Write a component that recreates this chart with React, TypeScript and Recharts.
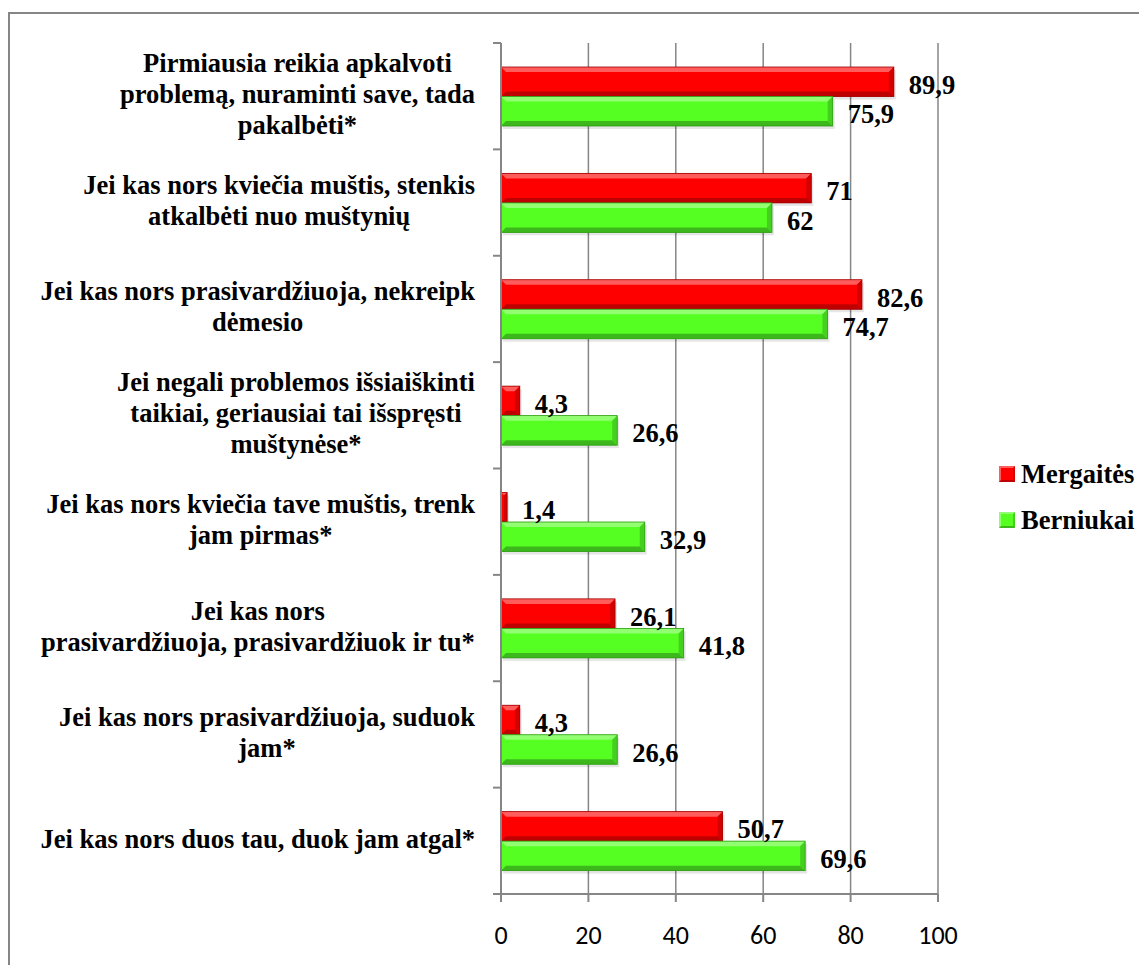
import { Bar, BarChart, CartesianGrid, LabelList, XAxis, YAxis } from 'recharts';

const categories = [
  'Pirmiausia reikia apkalvoti\nproblemą, nuraminti save, tada\npakalbėti*',
  'Jei kas nors kviečia muštis, stenkis\natkalbėti nuo muštynių',
  'Jei kas nors prasivardžiuoja, nekreipk\ndėmesio',
  'Jei negali problemos išsiaiškinti\ntaikiai, geriausiai tai išspręsti\nmuštynėse*',
  'Jei kas nors kviečia tave muštis, trenk\njam pirmas*',
  'Jei kas nors\nprasivardžiuoja, prasivardžiuok ir tu*',
  'Jei kas nors prasivardžiuoja, suduok\njam*',
  'Jei kas nors duos tau, duok jam atgal*',
];

const mergaites = [89.9, 71, 82.6, 4.3, 1.4, 26.1, 4.3, 50.7];
const berniukai = [75.9, 62, 74.7, 26.6, 32.9, 41.8, 26.6, 69.6];

const xTicks = [0, 20, 40, 60, 80, 100];

const data = categories.map((name, i) => ({
  name,
  mergaites: mergaites[i],
  berniukai: berniukai[i],
}));

const W = 1139;
const H = 965;
const MARGIN = { top: 35, right: 209, bottom: 19, left: 0 };
const X_AXIS_H = 60;
const PLOT_H = H - MARGIN.top - MARGIN.bottom - X_AXIS_H;
const BAND = PLOT_H / categories.length;

const GRID = '#868686';
const SERIF = 'Liberation Serif';
const FONT_SIZE = 26.5;

const RED = { base: '#ff0000', top: '#ff5c5c', bottom: '#bf0000', side: '#d40000', edge: '#a00000' };
const GREEN = { base: '#55ff22', top: '#92ff72', bottom: '#3cb81c', side: '#45d01f', edge: '#2e9a14' };

// rough Times/Liberation Serif bold advance widths (em), for centring wrapped label lines
const WIDE = 'mwMW';
const charW = (c: string) => {
  if (c === ' ' || c === ',' || c === '.') return 0.25;
  if ('iljtfI'.includes(c) || c === 'į') return 0.3;
  if ('r'.includes(c)) return 0.444;
  if ('s'.includes(c) || c === 'š') return 0.389;
  if ('e'.includes(c) || c === 'ė' || c === 'ę') return 0.444;
  if (c === 'm') return 0.833;
  if (WIDE.includes(c)) return 0.95;
  if ('JP'.includes(c)) return 0.55;
  if (c === 'c' || c === 'č') return 0.444;
  if (c === 'a' || c === 'ą' || c === 'o' || c === 'g' || c === 'v' || c === '*' || c === 'z' || c === 'ž') return 0.5;
  return 0.556;
};
const measure = (text: string) => {
  try {
    const el = document.createElement('canvas').getContext('2d');
    if (el) {
      el.font = `bold ${FONT_SIZE}px "Liberation Serif"`;
      return el.measureText(text).width;
    }
  } catch (e) {
    // fall through
  }
  return [...text].reduce((s, c) => s + charW(c), 0) * FONT_SIZE;
};

const fmt = (v: number) => String(v).replace('.', ',');

const BevelBar = (props: any) => {
  const { x, y, width, height, tone } = props;
  if (width <= 0) return null;
  const b = Math.min(5, width / 2);
  const r = x + width;
  const btm = y + height;
  return (
    <g>
      <rect x={x + 2} y={y + 3} width={width} height={height} fill="#000" opacity={0.1} />
      <rect x={x} y={y} width={width} height={height} fill={tone.base} />
      <polygon points={`${x},${y} ${r},${y} ${r - b},${y + b} ${x + b},${y + b}`} fill={tone.top} />
      <polygon points={`${x},${btm} ${r},${btm} ${r - b},${btm - b} ${x + b},${btm - b}`} fill={tone.bottom} />
      <polygon points={`${r},${y} ${r - b},${y + b} ${r - b},${btm - b} ${r},${btm}`} fill={tone.side} />
      <rect x={x} y={y} width={width} height={height} fill="none" stroke={tone.edge} strokeWidth={0.8} />
    </g>
  );
};

const ValueLabel = (props: any) => {
  const { x, y, width, height, value } = props;
  return (
    <text
      x={x + width + 15}
      y={y + height / 2 + 12}
      fontFamily={SERIF}
      fontWeight="bold"
      fontSize={FONT_SIZE}
      fill="#000"
    >
      {fmt(value)}
    </text>
  );
};

const CategoryTick = (props: any) => {
  const { x, y, payload, index } = props;
  const lines: string[] = String(payload.value).split('\n');
  const maxW = Math.max(...lines.map(measure));
  const cx = x - maxW / 2;
  const lh = 31;
  const start = y + 7 - ((lines.length - 1) * lh) / 2;
  const axisX = x + 26;
  return (
    <g>
      <line x1={axisX - 8} x2={axisX} y1={y - BAND / 2} y2={y - BAND / 2} stroke={GRID} strokeWidth={2} />
      {index === categories.length - 1 && (
        <line x1={axisX - 8} x2={axisX} y1={y + BAND / 2} y2={y + BAND / 2} stroke={GRID} strokeWidth={2} />
      )}
      {lines.map((line, i) => (
        <text
          key={i}
          x={cx}
          y={start + i * lh}
          textAnchor="middle"
          fontFamily={SERIF}
          fontWeight="bold"
          fontSize={FONT_SIZE}
          fill="#000"
        >
          {line}
        </text>
      ))}
    </g>
  );
};

const ValueTick = (props: any) => {
  const { x, y, payload } = props;
  return (
    <text x={x} y={y + 42} textAnchor="middle" fontFamily="Carlito, Lato, sans-serif" fontSize={26} fill="#000">
      {payload.value}
    </text>
  );
};

const legendItems = [
  { name: 'Mergaitės', tone: RED },
  { name: 'Berniukai', tone: GREEN },
];

const LegendBox = () => (
  <div style={{ position: 'absolute', left: 991, top: 443.5 }}>
    {legendItems.map((item) => (
      <div key={item.name} style={{ display: 'flex', alignItems: 'center', height: 45.5 }}>
        <div
          style={{
            width: 12,
            height: 12,
            background: item.tone.base,
            borderStyle: 'solid',
            borderWidth: 2,
            borderTopColor: item.tone.top,
            borderLeftColor: item.tone.top,
            borderRightColor: item.tone.side,
            borderBottomColor: item.tone.bottom,
          }}
        />
        <span
          style={{
            marginLeft: 6,
            fontFamily: SERIF,
            fontWeight: 700,
            fontSize: FONT_SIZE,
            lineHeight: `${FONT_SIZE}px`,
            color: '#000',
          }}
        >
          {item.name}
        </span>
      </div>
    ))}
  </div>
);

export default function App() {
  return (
    <div style={{ position: 'relative', width: W, height: 957, overflow: 'hidden', background: '#fff' }}>
      <div
        style={{
          position: 'absolute',
          left: 0,
          top: 4,
          right: -10,
          bottom: -10,
          borderLeft: `2px solid ${GRID}`,
          borderTop: `2px solid ${GRID}`,
        }}
      />
      <BarChart width={W} height={H} data={data} layout="vertical" margin={MARGIN} barSize={29.5} barGap={0}>
        <CartesianGrid horizontal={false} stroke={GRID} strokeWidth={1.5} />
        <XAxis
          type="number"
          domain={[0, 100]}
          ticks={xTicks}
          height={X_AXIS_H}
          tickSize={8}
          tickMargin={0}
          axisLine={{ stroke: GRID, strokeWidth: 2 }}
          tickLine={{ stroke: GRID, strokeWidth: 2 }}
          tick={<ValueTick />}
          interval={0}
        />
        <YAxis
          type="category"
          dataKey="name"
          width={493}
          tickSize={8}
          tickMargin={18}
          tickLine={false}
          axisLine={{ stroke: GRID, strokeWidth: 2 }}
          tick={<CategoryTick />}
          interval={0}
        />
        <Bar dataKey="mergaites" name="Mergaitės" isAnimationActive={false} shape={(p: any) => <BevelBar {...p} tone={RED} />}>
          <LabelList dataKey="mergaites" content={<ValueLabel />} />
        </Bar>
        <Bar dataKey="berniukai" name="Berniukai" isAnimationActive={false} shape={(p: any) => <BevelBar {...p} tone={GREEN} />}>
          <LabelList dataKey="berniukai" content={<ValueLabel />} />
        </Bar>
      </BarChart>
      <LegendBox />
    </div>
  );
}
